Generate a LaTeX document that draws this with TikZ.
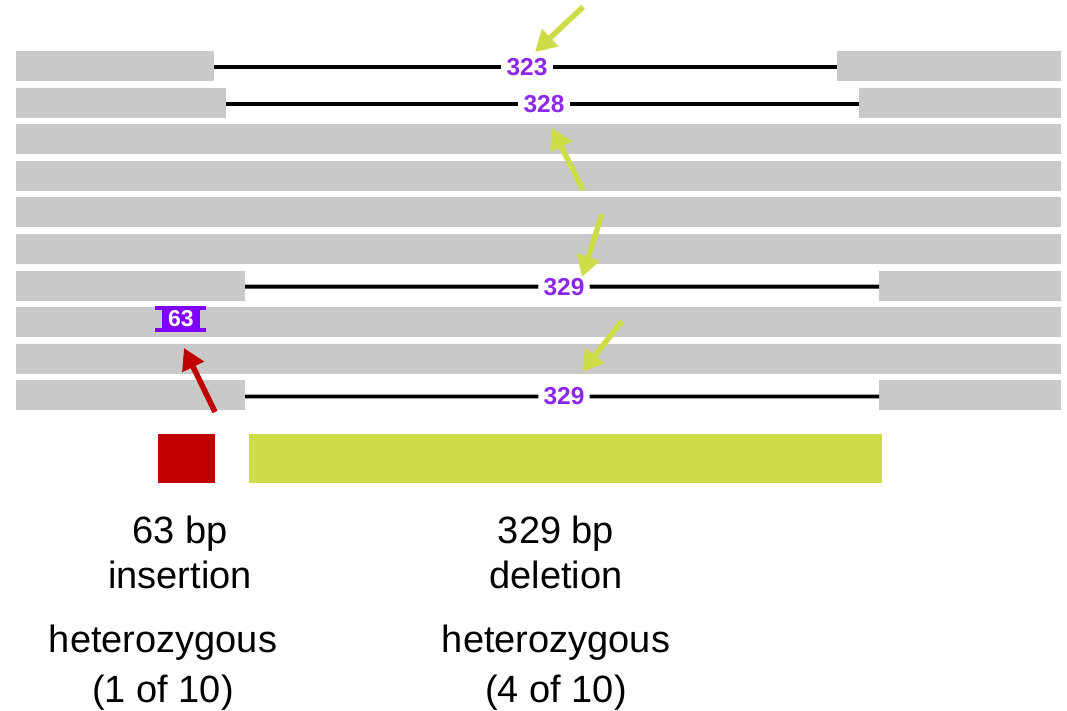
\documentclass[tikz,border=0pt]{standalone}
\usepackage{fontspec}
\setmainfont{Liberation Sans}
\usetikzlibrary{arrows.meta}
\definecolor{readgray}{RGB}{201,201,201}
\definecolor{sizeviolet}{RGB}{140,40,235}
\definecolor{insviolet}{RGB}{127,0,255}
\definecolor{delgreen}{RGB}{205,220,71}
\definecolor{insred}{RGB}{192,0,0}
\tikzset{
  read/.style={fill=readgray},
  gapline/.style={line width=3.8pt, black},
  sizelabel/.style={fill=white, text=sizeviolet, inner xsep=5pt, inner ysep=1pt,
    font=\fontsize{24.5}{24.5}\selectfont\bfseries},
  badge/.style={fill=insviolet, text=white, minimum width=38pt, minimum height=26pt,
    inner sep=0pt, font=\fontsize{23}{23}\selectfont\bfseries},
  pointer/.style={line width=5.5pt, -{Triangle[length=21pt,width=23pt]}},
  caption/.style={anchor=base, inner sep=0pt, font=\fontsize{38}{46}\selectfont},
}

\begin{document}
\begin{tikzpicture}[x=1pt,y=-1pt]
  \useasboundingbox (0,0) rectangle (1067,710);
  % reads without the deletion
  \foreach \r in {3,4,5,6,8,9}
    \fill[read] (16,{51+(\r-1)*36.6}) rectangle (1061,{81+(\r-1)*36.6});
  % reads with the deletion: row/left end/right start
  \foreach \r/\a/\b in {1/214/837, 2/226/859, 7/245/879, 10/245/879} {
    \fill[read] (16,{51+(\r-1)*36.6}) rectangle (\a,{81+(\r-1)*36.6});
    \fill[read] (\b,{51+(\r-1)*36.6}) rectangle (1061,{81+(\r-1)*36.6});
    \coordinate (l\r) at (\a,{67+(\r-1)*36.6});
    \coordinate (r\r) at (\b,{67+(\r-1)*36.6});
  }
  \node[sizelabel] (d1) at (527,67) {323};
  \node[sizelabel] (d2) at (544,103.6) {328};
  \node[sizelabel] (d7) at (564,286.6) {329};
  \node[sizelabel] (d10) at (564,396.4) {329};
  \draw[gapline] (l1) -- (d1) -- (r1);
  \draw[gapline] (l2) -- (d2) -- (r2);
  \draw[gapline] (l7) -- (d7) -- (r7);
  \draw[gapline] (l10) -- (d10) -- (r10);
  % insertion mark
  \node[badge] (ins) at (181,319) {63};
  \fill[insviolet] ([xshift=-7pt]ins.north west) rectangle ([xshift=6pt,yshift=-4pt]ins.north east);
  \fill[insviolet] ([xshift=-7pt,yshift=4pt]ins.south west) rectangle ([xshift=6pt]ins.south east);
  % pointers
  \coordinate (g1) at (583,7);    \coordinate (g1tip) at (535,52);
  \coordinate (g2) at (583,190);  \coordinate (g2tip) at (552,128);
  \coordinate (g3) at (602,214);  \coordinate (g3tip) at (582,277);
  \coordinate (g4) at (622,321);  \coordinate (g4tip) at (582,372);
  \coordinate (rd) at (215,412);  \coordinate (rdtip) at (184,348);
  \draw[pointer, delgreen] (g1) -- (g1tip);
  \draw[pointer, delgreen] (g2) -- (g2tip);
  \draw[pointer, delgreen] (g3) -- (g3tip);
  \draw[pointer, delgreen] (g4) -- (g4tip);
  \draw[pointer, insred] (rd) -- (rdtip);
  % bars
  \fill[insred] (158,434) rectangle (215,483);
  \fill[delgreen] (249,434) rectangle (882,483);
  % captions
  \node[caption] (ins1) at (180,543) {63 bp};
  \node[caption] (ins2) at (180,588) {insertion};
  \node[caption] (ins3) at (163,652) {heterozygous};
  \node[caption] (ins4) at (163,702) {(1 of 10)};
  \node[caption] (del1) at (556,543) {329 bp};
  \node[caption] (del2) at (556,588) {deletion};
  \node[caption] (del3) at (556,652) {heterozygous};
  \node[caption] (del4) at (556,702) {(4 of 10)};
\end{tikzpicture}
\end{document}
